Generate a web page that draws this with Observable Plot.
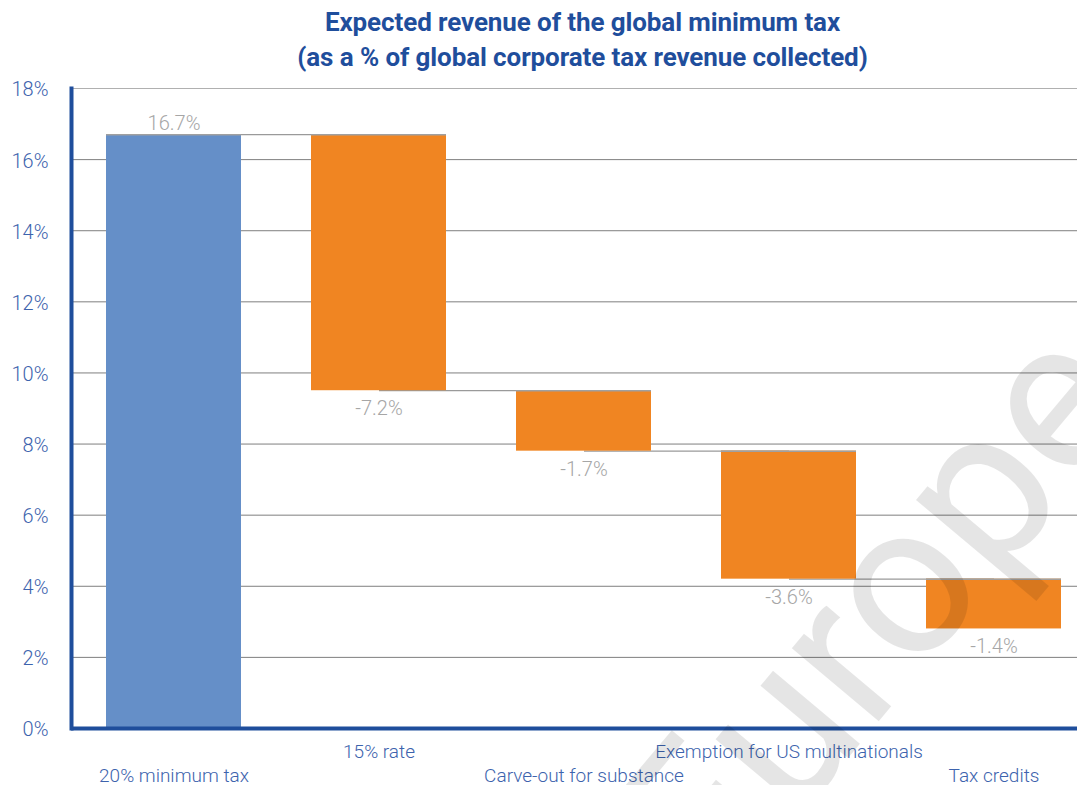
<!DOCTYPE html>
<html><head><meta charset="utf-8">
<script src="https://cdn.jsdelivr.net/npm/d3@7"></script>
<script src="https://cdn.jsdelivr.net/npm/@observablehq/plot@0.6"></script>
<style>
body{margin:0;background:#fff;font-family:Roboto,sans-serif;}
#wrap{position:relative;width:1077px;height:785px;overflow:hidden}
#title{position:absolute;z-index:2;top:5px;left:0;width:1077px;box-sizing:border-box;padding-left:88px;text-align:center;color:#1f4e9c;font-weight:700;font-size:26px;line-height:35px;letter-spacing:-0.1px}
</style></head><body>
<div id="wrap"><div id="title">Expected revenue of the global minimum tax<br>(as a % of global corporate tax revenue collected)</div></div>
<script>
const categories = ["20% minimum tax","15% rate","Carve-out for substance","Exemption for US multinationals","Tax credits"];
const values = [16.7,-7.2,-1.7,-3.6,-1.4];
const valueLabels = ["16.7%","-7.2%","-1.7%","-3.6%","-1.4%"];
const kinds = ["total","change","change","change","change"];
const yTicks = [0,2,4,6,8,10,12,14,16,18];
const watermark = ["Europe"];

let run = 0;
const data = categories.map((name,i)=>{
  const start = kinds[i]==="total" ? 0 : run;
  const end = kinds[i]==="total" ? values[i] : run + values[i];
  run = end;
  return {name, start, end, top: Math.max(start,end), bottom: Math.min(start,end), label: valueLabels[i], kind: kinds[i], i};
});
const links = data.slice(0,-1).map((d,i)=>({from:d.name, to:data[i+1].name, level:d.end}));

const blue = "#1f4e9c", tickBlue = "#3d63ad", labelGray = "#a6a6a6";

const chart = Plot.plot({
  width:1077, height:785, marginTop:88, marginBottom:57, marginLeft:71, marginRight:0,
  style:{fontFamily:"Roboto, sans-serif", background:"transparent"},
  x:{domain:categories, range:[71,1097], paddingInner:0.34, paddingOuter:0.17, axis:null},
  y:{domain:[0,18]},
  marks:[
    Plot.gridY(yTicks.filter(t=>t>0 && t<18), {stroke:"#7f7f7f", strokeOpacity:1, strokeWidth:1}),
    Plot.gridY([18], {stroke:"#b0b0b0", strokeOpacity:1, strokeWidth:1}),
    Plot.axisY(yTicks, {tickSize:0, tickPadding:23, fontSize:20, dy:1.5, fill:tickBlue, fontWeight:300, tickFormat:d=>d+"%", label:null}),
    Plot.link(links, {x1:"from", x2:"to", y1:"level", y2:"level", stroke:"#9a9a9a", strokeWidth:1.2}),
    Plot.barY(data, {x:"name", y1:"start", y2:"end", fill:d=>d.kind==="total" ? "#658fc8" : "#f08522"}),
    Plot.tickY(data, {x:"name", y:"top", stroke:"#a0a0a0", strokeWidth:1.5}),
    Plot.text(data.filter(d=>d.kind==="total"), {x:"name", y:"top", text:"label", dy:-11, fill:labelGray, fontSize:20, fontWeight:300}),
    Plot.text(data.filter(d=>d.kind!=="total"), {x:"name", y:"bottom", text:"label", dy:18, fill:labelGray, fontSize:20, fontWeight:300}),
    Plot.text(data.filter(d=>d.i%2===0), {x:"name", frameAnchor:"bottom", text:"name", dy:53, fill:tickBlue, fontSize:19, fontWeight:300}),
    Plot.text(data.filter(d=>d.i%2===1), {x:"name", frameAnchor:"bottom", text:"name", dy:29, fill:tickBlue, fontSize:19, fontWeight:300}),
    Plot.ruleY([0], {stroke:blue, strokeWidth:4}),
    Plot.frame({anchor:"left", stroke:blue, strokeWidth:4}),
    Plot.text(watermark, {frameAnchor:"bottom-right", text:d=>d, rotate:-50, textAnchor:"end", lineAnchor:"bottom", fontSize:215, fill:"#000", fillOpacity:0.1, dx:67, dy:-324})
  ]
});
document.getElementById("wrap").appendChild(chart);
</script>
</body></html>
